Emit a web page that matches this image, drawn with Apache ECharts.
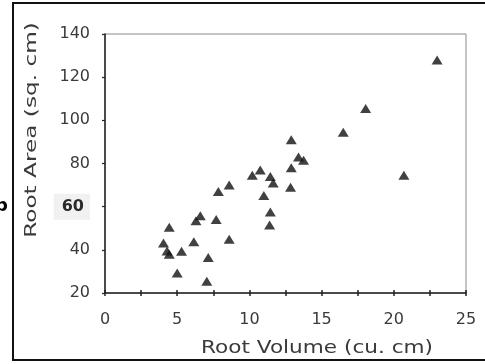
<!DOCTYPE html>
<html><head><meta charset="utf-8">
<script src="https://cdn.jsdelivr.net/npm/echarts@6/dist/echarts.min.js"></script>
<style>html,body{margin:0;padding:0;background:#fff}#c{width:485px;height:364px}</style>
</head><body><div id="c"></div>
<script>
const rootVolume = [23.0, 18.05, 16.5, 20.7, 12.9, 13.4, 13.75, 12.9, 12.85, 10.2, 10.75, 11.45, 11.65, 11.0, 11.45, 11.4, 7.85, 8.6, 6.6, 6.3, 7.7, 4.45, 4.05, 4.3, 4.45, 5.3, 6.15, 8.6, 7.15, 5.0, 7.05];
const rootArea   = [128, 105.5, 94.5, 74.5, 91, 83, 81.5, 78, 69, 74.5, 77, 74, 71, 65.2, 57.5, 51.5, 67, 70, 55.8, 53.5, 54, 50.5, 43.2, 39.5, 38, 39.3, 43.8, 44.9, 36.5, 29.3, 25.5];
const xTitle = 'Root Volume (cu. cm)';
const yTitle = 'Root Area (sq. cm)';
const panelLabel = 'b';

const FONT = '"DejaVu Sans", sans-serif';
const chart = echarts.init(document.getElementById('c'), null, {renderer: 'canvas'});
const pts = rootVolume.map((v, i) => [v, rootArea[i]]);
chart.setOption({
  backgroundColor: '#fff',
  animation: false,
  grid: {left: 105, right: 19, top: 34, bottom: 71, show: true, borderColor: '#8a8a8a', borderWidth: 1, backgroundColor: 'transparent'},
  xAxis: [{
    type: 'value', min: 0, max: 25, interval: 2.5, position: 'bottom',
    axisLine: {show: true, lineStyle: {color: '#222', width: 1.5}},
    axisTick: {show: true, length: 3, lineStyle: {color: '#222', width: 1.5}},
    splitLine: {show: false},
    axisLabel: {margin: 19, fontFamily: FONT, fontSize: 16, color: '#3a3a3a',
      formatter: v => (Math.abs(v % 5) < 1e-9 ? String(v) : '')}
  }, {
    type: 'value', min: 0, max: 25, interval: 2.5, position: 'bottom',
    axisLine: {show: false},
    axisTick: {show: true, inside: true, length: 3, lineStyle: {color: '#222', width: 1.5}},
    splitLine: {show: false}, axisLabel: {show: false}
  }],
  yAxis: {
    type: 'value', min: 20, max: 140, interval: 20,
    axisLine: {show: true, lineStyle: {color: '#222', width: 1.5}},
    axisTick: {show: true, length: 3, lineStyle: {color: '#222', width: 1.2}},
    splitLine: {show: false},
    axisLabel: {margin: 15, fontFamily: FONT, fontSize: 16, color: '#3a3a3a',
      formatter: v => (v === 60 ? '{h|60}' : String(v)),
      rich: {h: {fontFamily: FONT, fontSize: 16, color: '#2a2a2a', fontWeight: 'bold', backgroundColor: '#f1f1f1', padding: [5, 6, 5, 8]}}}
  },
  series: [{
    type: 'scatter', xAxisIndex: 0, data: pts,
    symbol: 'triangle', symbolSize: [11, 9],
    itemStyle: {color: '#111'}
  }],
  graphic: [
    {type: 'rect', shape: {x: 13, y: 3, width: 480, height: 357}, style: {fill: 'none', stroke: '#111', lineWidth: 2}, silent: true},
    {type: 'text', x: 317, y: 349, scaleX: 1.27, style: {text: xTitle, font: '17px ' + FONT, fill: '#3a3a3a', align: 'center', verticalAlign: 'middle'}},
    {type: 'text', x: 32, y: 130, rotation: Math.PI / 2, scaleX: 1.45, style: {text: yTitle, font: '16px ' + FONT, fill: '#3a3a3a', align: 'center', verticalAlign: 'middle'}},
    {type: 'text', x: 8, y: 206, style: {text: panelLabel, font: 'bold 18px ' + FONT, fill: '#000', align: 'right', verticalAlign: 'middle'}}
  ]
});
</script></body></html>
